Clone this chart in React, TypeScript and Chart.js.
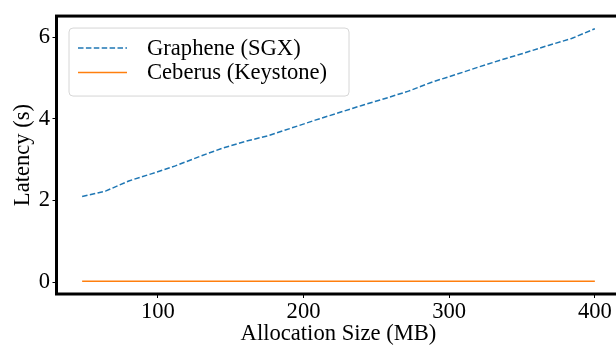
import React, { useEffect, useRef } from "react";
import { Chart, registerables } from "chart.js";

Chart.register(...registerables);

const allocationSizes = [48, 64, 80, 96, 112, 128, 144, 160, 176, 192, 208, 224, 240, 256, 272, 288, 304, 320, 336, 352, 368, 384, 400];
const grapheneLatency = [2.10, 2.23, 2.48, 2.66, 2.85, 3.07, 3.28, 3.45, 3.59, 3.78, 3.97, 4.15, 4.33, 4.50, 4.68, 4.90, 5.08, 5.27, 5.45, 5.62, 5.80, 5.97, 6.21];
const ceberusLatency = [0.02, 0.02, 0.02, 0.02, 0.02, 0.02, 0.02, 0.02, 0.02, 0.02, 0.02, 0.02, 0.02, 0.02, 0.02, 0.02, 0.02, 0.02, 0.02, 0.02, 0.02, 0.02, 0.02];
const seriesLabels = ["Graphene (SGX)", "Ceberus (Keystone)"];
const xTicks = [100, 200, 300, 400];
const yTicks = [0, 2, 4, 6];

const FONT = "'Liberation Serif', 'Times New Roman', serif";
const FS = 22.6;

const framePlugin = {
  id: "frame",
  afterDatasetsDraw(chart: any) {
    const { ctx, chartArea } = chart;
    ctx.save();
    ctx.strokeStyle = "#000";
    ctx.lineWidth = 3;
    ctx.strokeRect(chartArea.left, chartArea.top, chartArea.right - chartArea.left, chartArea.bottom - chartArea.top);
    ctx.restore();
  },
};

const legendPlugin = {
  id: "innerLegend",
  afterDraw(chart: any) {
    const { ctx, chartArea } = chart;
    const left = chartArea.left + 12.5;
    const top = chartArea.top + 12;
    const w = 280;
    const h = 68;
    const r = 4;
    ctx.save();
    ctx.beginPath();
    ctx.moveTo(left + r, top);
    ctx.lineTo(left + w - r, top);
    ctx.arcTo(left + w, top, left + w, top + r, r);
    ctx.lineTo(left + w, top + h - r);
    ctx.arcTo(left + w, top + h, left + w - r, top + h, r);
    ctx.lineTo(left + r, top + h);
    ctx.arcTo(left, top + h, left, top + h - r, r);
    ctx.lineTo(left, top + r);
    ctx.arcTo(left, top, left + r, top, r);
    ctx.closePath();
    ctx.fillStyle = "rgba(255,255,255,0.8)";
    ctx.fill();
    ctx.strokeStyle = "#d6d6d6";
    ctx.lineWidth = 1;
    ctx.stroke();
    chart.data.datasets.forEach((ds: any, i: number) => {
      const y = top + 20 + i * 24.5;
      ctx.beginPath();
      ctx.strokeStyle = ds.borderColor;
      ctx.lineWidth = ds.borderWidth;
      ctx.setLineDash(ds.borderDash || []);
      ctx.moveTo(left + 9, y);
      ctx.lineTo(left + 58, y);
      ctx.stroke();
      ctx.setLineDash([]);
      ctx.fillStyle = "#000";
      ctx.font = `${FS}px ${FONT}`;
      ctx.textBaseline = "middle";
      ctx.textAlign = "left";
      ctx.fillText(ds.label, left + 78, y + 1);
    });
    ctx.restore();
  },
};

export default function App() {
  const ref = useRef<HTMLCanvasElement | null>(null);
  useEffect(() => {
    document.body.style.margin = "0";
    const canvas = ref.current!;
    const chart = new Chart(canvas, {
      type: "line",
      data: {
        labels: allocationSizes,
        datasets: [
          {
            label: seriesLabels[0],
            data: allocationSizes.map((x, i) => ({ x, y: grapheneLatency[i] })),
            borderColor: "#1f77b4",
            borderWidth: 1.5,
            borderDash: [5.5, 2.4],
            pointRadius: 0,
            fill: false,
            tension: 0,
          },
          {
            label: seriesLabels[1],
            data: allocationSizes.map((x, i) => ({ x, y: ceberusLatency[i] })),
            borderColor: "#ff7f0e",
            borderWidth: 1.5,
            pointRadius: 0,
            fill: false,
            tension: 0,
          },
        ],
      },
      options: {
        animation: false,
        responsive: false,
        devicePixelRatio: 1,
        layout: { padding: { top: 14, right: 1.5, left: 0, bottom: 0 } },
        plugins: { legend: { display: false }, tooltip: { enabled: false } },
        scales: {
          x: {
            type: "linear",
            min: 30.4,
            max: 417.6,
            afterFit: (s: any) => { s.height = 53; },
            afterBuildTicks: (s: any) => { s.ticks = xTicks.map((v) => ({ value: v })); },
            border: { display: false },
            grid: { drawOnChartArea: false, drawTicks: true, tickLength: 4, color: "#000", lineWidth: 1 },
            ticks: { color: "#000", font: { family: FONT, size: FS }, padding: 0.5, maxRotation: 0, autoSkip: false },
            title: { display: true, text: "Allocation Size (MB)", color: "#000", font: { family: FONT, size: FS }, padding: { top: 0, bottom: -1 } },
          },
          y: {
            type: "linear",
            min: -0.29,
            max: 6.52,
            afterFit: (s: any) => { s.width = 56.5; },
            afterBuildTicks: (s: any) => { s.ticks = yTicks.map((v) => ({ value: v })); },
            border: { display: false },
            grid: { drawOnChartArea: false, drawTicks: true, tickLength: 4, color: "#000", lineWidth: 1 },
            ticks: { color: "#000", font: { family: FONT, size: FS }, padding: 2.5 },
            title: { display: true, text: "Latency (s)", color: "#000", font: { family: FONT, size: FS }, padding: { top: 10, bottom: 0 } },
          },
        },
      },
      plugins: [framePlugin, legendPlugin],
    });
    return () => chart.destroy();
  }, []);
  return (
    <div style={{ width: 616, height: 347, overflow: "hidden", background: "#fff" }}>
      <canvas ref={ref} width={622} height={347} style={{ display: "block" }} />
    </div>
  );
}
